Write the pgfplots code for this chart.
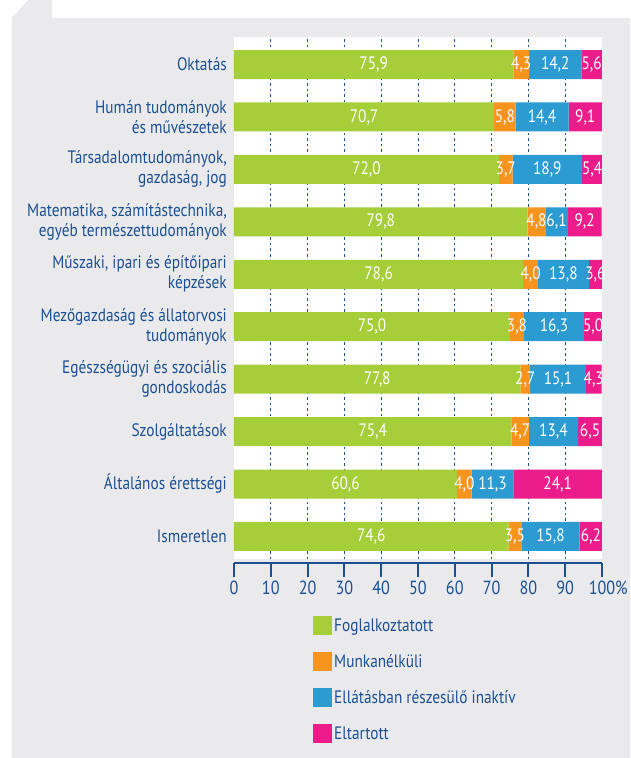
\documentclass[border=0pt]{standalone}
\usepackage{fontspec}
\setmainfont{PT Sans}[FakeStretch=0.85]
\usepackage{pgfplots}
\usepackage{pgfplotstable}
\pgfplotsset{compat=1.18}
\definecolor{cg}{HTML}{A6CE39}
\definecolor{co}{HTML}{F7941D}
\definecolor{cb}{HTML}{2B9BD1}
\definecolor{cp}{HTML}{EC1C8A}
\definecolor{tb}{HTML}{1B5092}
\definecolor{bg}{RGB}{234,234,237}
\pgfplotsset{sqleg/.style={legend image code/.code={\fill[##1] (0pt,-9.5pt) rectangle (19pt,9.5pt);}}}
\pgfplotstableread{
y g o b p
9 75.9 4.3 14.2 5.6
8 70.7 5.8 14.4 9.1
7 72.0 3.7 18.9 5.4
6 79.8 4.8 6.1 9.2
5 78.6 4.0 13.8 3.6
4 75.0 3.8 16.3 5.0
3 77.8 2.7 15.1 4.3
2 75.4 4.7 13.4 6.5
1 60.6 4.0 11.3 24.1
0 74.6 3.5 15.8 6.2
}\data
% label positions: middle of each stacked segment
\pgfplotstablecreatecol[create col/expr={\thisrow{g}/2}]{gm}\data
\pgfplotstablecreatecol[create col/expr={\thisrow{g}+\thisrow{o}/2}]{om}\data
\pgfplotstablecreatecol[create col/expr={\thisrow{g}+\thisrow{o}+\thisrow{b}/2}]{bm}\data
\pgfplotstablecreatecol[create col/expr={\thisrow{g}+\thisrow{o}+\thisrow{b}+\thisrow{p}/2}]{pm}\data
\pgfplotsset{
  common/.style={scale only axis, width=368pt, height=522pt,
    xmin=0, xmax=100, ymin=-0.43, ymax=9.525},
  lbl/.style={draw=none, mark=none, point meta=explicit,
    nodes near coords={\pgfmathprintnumber[fixed,fixed zerofill,precision=1,use comma,assume math mode=true]{\pgfplotspointmeta}},
    every node near coord/.style={anchor=center, text=white, inner sep=0pt,
      font=\fontsize{18}{18}\selectfont}},
}
\begin{document}
\begin{tikzpicture}
\useasboundingbox (-234pt,559pt) rectangle (396pt,-199pt);
\fill[white] (-234pt,559pt) rectangle (396pt,-199pt);
\fill[bg] (-222pt,541pt) -- (-222pt,-199pt) -- (396pt,-199pt) -- (396pt,541pt) -- (-182pt,541pt) -- (-182pt,559pt) -- (-206pt,559pt) -- cycle;
\begin{axis}[
  common,
  xbar stacked, bar width=29pt,
  axis background/.style={fill=white},
  axis x line*=bottom, axis y line*=left,
  y axis line style={draw=none},
  x axis line style={-, line width=2pt, draw=tb, yshift=-4pt},
  xtick={10,20,...,90},
  xticklabels={10,20,30,40,50,60,70,80,90},
  extra x ticks={0,100},
  extra x tick labels={0,100\rlap{\%}},
  extra x tick style={grid=none},
  xtick align=outside,
  major tick length=14pt,
  xtick style={line width=2pt, draw=tb, yshift=-4pt},
  xticklabel style={font=\fontsize{19}{19}\selectfont, text=tb, yshift=-4pt},
  xmajorgrids=true,
  major grid style={draw=tb, line width=0.8pt, dash pattern=on 2.5pt off 3pt},
  ytick={0,...,9},
  yticklabels={Ismeretlen, Általános érettségi, Szolgáltatások,
    {Egészségügyi és szociális\\gondoskodás},
    {Mezőgazdaság és állatorvosi\\tudományok},
    {Műszaki, ipari és építőipari\\képzések},
    {Matematika, számítástechnika,\\egyéb természettudományok},
    {Társadalomtudományok,\\gazdaság, jog},
    {Humán tudományok\\és művészetek},
    Oktatás},
  ytick style={draw=none},
  yticklabel style={font=\fontsize{18}{20}\selectfont, text=tb, align=right, inner sep=0pt, xshift=-7pt},
  legend style={at={(axis description cs:0.2147,-0.109)}, anchor=north west,
     draw=none, fill=none, inner sep=0pt, font=\fontsize{18}{18}\selectfont,
     text=tb, row sep=17pt, legend cell align=left,
     /tikz/every even column/.append style={column sep=8pt}},
]
\addplot[fill=cg, draw=none, sqleg] table[x=g, y=y] \data;
\addplot[fill=co, draw=none, sqleg] table[x=o, y=y] \data;
\addplot[fill=cb, draw=none, sqleg] table[x=b, y=y] \data;
\addplot[fill=cp, draw=none, sqleg] table[x=p, y=y] \data;
\legend{Foglalkoztatott, Munkanélküli, Ellátásban részesülő inaktív, Eltartott}
\end{axis}
\begin{axis}[common, hide axis]
\addplot[lbl] table[x=gm, y=y, meta=g] \data;
\addplot[lbl] table[x=om, y=y, meta=o] \data;
\addplot[lbl] table[x=bm, y=y, meta=b] \data;
\addplot[lbl] table[x=pm, y=y, meta=p] \data;
\end{axis}
\end{tikzpicture}
\end{document}
